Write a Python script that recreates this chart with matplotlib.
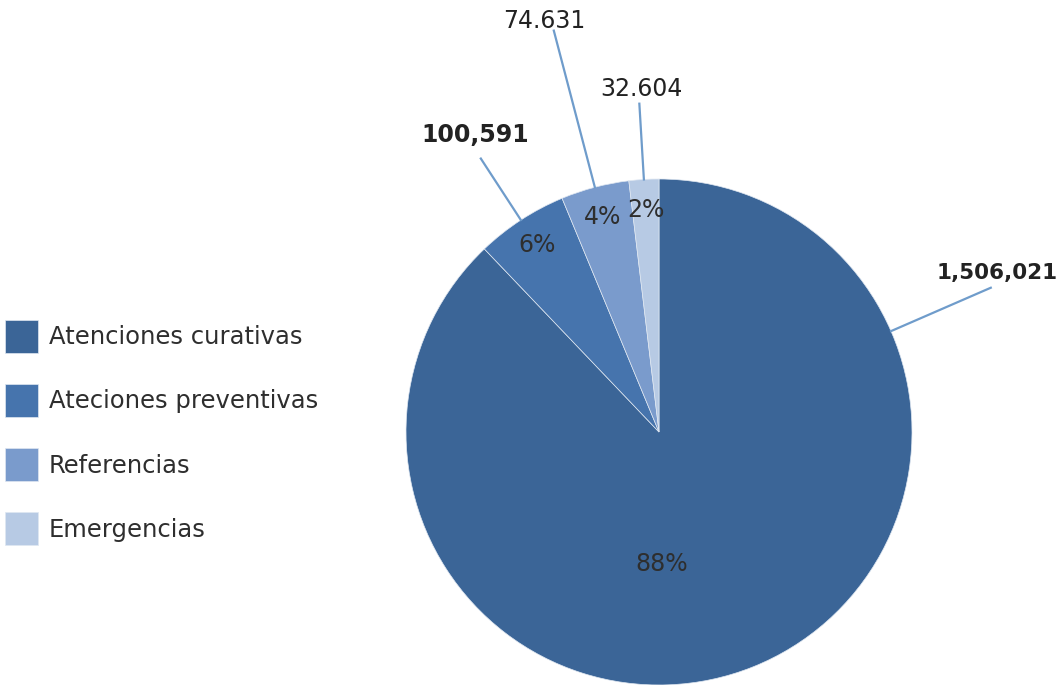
import numpy as np
import matplotlib
matplotlib.use('Agg')
from matplotlib import pyplot as plt

# datos
categorias = ['Atenciones curativas', 'Ateciones preventivas', 'Referencias', 'Emergencias']
valores = [1506021, 100591, 74631, 32604]
etiquetas = ['1,506,021', '100,591', '74.631', '32.604']
colores = ['#3b6597', '#4674ad', '#7a9bcc', '#b7cae4']

W, H = 1058, 685
fig = plt.figure(figsize=(W / 100, H / 100), dpi=100)
ax = fig.add_axes([0, 0, 1, 1])
ax.set_xlim(0, W)
ax.set_ylim(0, H)
ax.set_aspect('equal')
ax.axis('off')

cx, cy, r = 659, 253, 253
wedges, textos, pcts = ax.pie(valores, colors=colores, startangle=90, counterclock=False,
                              center=(cx, cy), radius=r, autopct='%1.0f%%', pctdistance=0.88,
                              wedgeprops=dict(edgecolor='#dfe7f1', linewidth=0.5),
                              textprops=dict(fontsize=17, color='#2e2e2e'))
ax.set_xlim(0, W)
ax.set_ylim(0, H)

# el 88% va casi abajo del centro (como en excel)
pcts[0].set_position((cx + 3, cy - 132))

# lineas guia: angulo, largo y separacion del texto
ang_guia = [23.5, None, None, None]
largo = [1.43, 1.29, 1.64, 1.30]
sep = [9, 17, 3, 8]
dx_txt = [6, -6, -10, 2]
for i, w in enumerate(wedges):
    a = ang_guia[i] if ang_guia[i] is not None else (w.theta1 + w.theta2) / 2
    t = np.deg2rad(a)
    x0, y0 = cx + r * np.cos(t), cy + r * np.sin(t)
    x1, y1 = cx + largo[i] * r * np.cos(t), cy + largo[i] * r * np.sin(t)
    ax.plot([x0, x1], [y0, y1], color='#6f9ccb', lw=1.6)
    ax.text(x1 + dx_txt[i], y1 + sep[i], etiquetas[i], ha='center', va='baseline',
            fontsize=15.5 if i == 0 else 17, color='#222222',
            fontweight='bold' if i < 2 else 'normal')

leg = ax.legend(wedges, categorias, loc='upper left', bbox_to_anchor=(5 / W, (H - 320) / H),
                frameon=False, fontsize=17.5, handlelength=1.36, handleheight=1.71,
                labelspacing=1.28, handletextpad=0.45, borderpad=0, borderaxespad=0)
for t in leg.get_texts():
    t.set_color('#2e2e2e')

fig.savefig('out.png', dpi=100)
